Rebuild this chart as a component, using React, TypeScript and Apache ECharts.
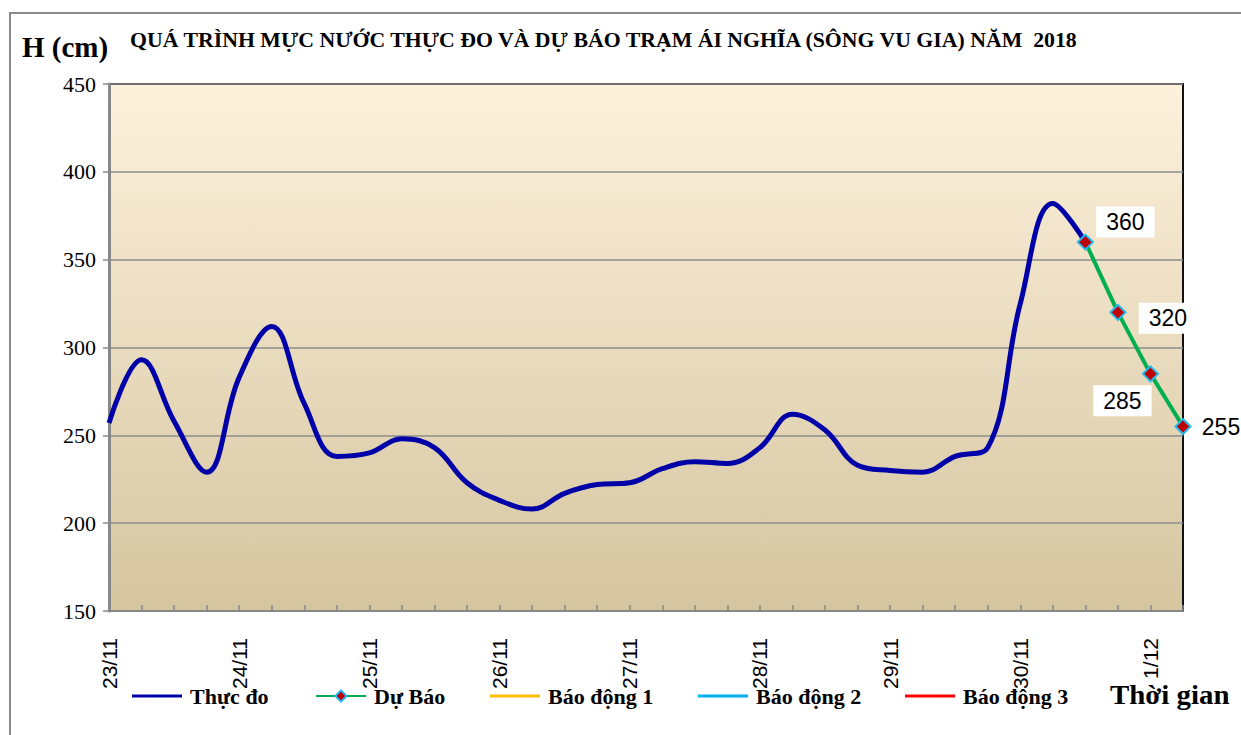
import React, { useEffect, useRef } from "react";
import * as echarts from "echarts";

const days = ["23/11", "24/11", "25/11", "26/11", "27/11", "28/11", "29/11", "30/11", "1/12"];
const hours = ["00h", "06h", "12h", "18h"];
const categories: string[] = [];
days.forEach((d, i) => {
  hours.forEach((h, j) => {
    if (i < days.length - 1 || j < 2) categories.push(d + " " + h);
  });
});

const observed = [257, 293, 258, 229, 283, 312, 268, 238, 240, 248, 243, 223, 213, 208, 217, 222, 223, 231, 235, 234, 243, 262, 253, 233, 230, 229, 238, 243, 325, 382, 360];
const forecastStart = 30;
const forecast = [360, 320, 285, 255];

const yTicks = { min: 150, max: 450, interval: 50 };

const titleText = "QUÁ TRÌNH MỰC NƯỚC THỰC ĐO VÀ DỰ BÁO TRẠM ÁI NGHĨA (SÔNG VU GIA) NĂM  2018";
const legendNames = ["Thực đo", "Dự Báo", "Báo động 1", "Báo động 2", "Báo động 3"];
const legendColors = ["#0000A8", "#00B050", "#FFC000", "#00B0F0", "#FF0000"];

export default function App() {
  const ref = useRef<HTMLDivElement>(null);
  useEffect(() => {
    document.body.style.margin = "0";
    const chart = echarts.init(ref.current!, null, { renderer: "svg" });
    const labelOffsets = [
      [40, -20],
      [50, 6],
      [-28, 27],
      [38, 0],
    ];
    const forecastData: any[] = categories.map(() => null);
    forecast.forEach((v, i) => {
      forecastData[forecastStart + i] = {
        value: v,
        label: { offset: labelOffsets[i] },
      };
    });
    const serif = "Liberation Serif";
    const sans = "Liberation Sans";
    const legendLefts = [132, 315, 490, 698, 905];
    const legends = legendNames.map((n, i) => ({
      data: [i === 1 ? { name: n } : { name: n, icon: "rect" }],
      left: legendLefts[i],
      top: 685,
      itemWidth: 50,
      itemHeight: i === 1 ? 14 : 3,
      itemGap: 0,
      padding: 0,
      textStyle: { fontFamily: serif, fontWeight: "bold", fontSize: 22, color: "#000", padding: [0, 0, 0, 3] },
    }));
    chart.setOption({
      animation: false,
      backgroundColor: "#fff",
      grid: {
        left: 109,
        right: 58,
        top: 84,
        bottom: 124,
        show: true,
        borderColor: "#111",
        borderWidth: 2,
        backgroundColor: new echarts.graphic.LinearGradient(0, 0, 0, 1, [
          { offset: 0, color: "#FDF1DC" },
          { offset: 1, color: "#D5C6A0" },
        ]),
      },
      graphic: [
        {
          type: "rect",
          shape: { x: 10, y: 13, width: 1240, height: 740 },
          style: { fill: "none", stroke: "#8a8a8a", lineWidth: 2 },
          z: -10,
        },
        {
          type: "text",
          x: 22,
          y: 32,
          style: { text: "H (cm)", fontFamily: serif, fontWeight: "bold", fontSize: 29, fill: "#000" },
        },
        {
          type: "text",
          x: 130,
          y: 30,
          scaleX: 1.09,
          style: { text: titleText, fontFamily: serif, fontWeight: "bold", fontSize: 20, fill: "#000" },
        },
        {
          type: "text",
          x: 1110,
          y: 681,
          scaleX: 1.07,
          style: { text: "Thời gian", fontFamily: serif, fontWeight: "bold", fontSize: 27, fill: "#000" },
        },
      ],
      legend: legends,
      xAxis: {
        type: "category",
        data: categories,
        boundaryGap: false,
        axisLine: { lineStyle: { color: "#888", width: 2 } },
        axisTick: { show: true, inside: true, length: 6, interval: 0, lineStyle: { color: "#888", width: 1.5 } },
        axisLabel: {
          interval: 3,
          rotate: 90,
          margin: 27,
          fontFamily: sans,
          fontSize: 21,
          color: "#000",
          formatter: (v: string) => v.split(" ")[0],
        },
        splitLine: { show: false },
      },
      yAxis: {
        type: "value",
        min: yTicks.min,
        max: yTicks.max,
        interval: yTicks.interval,
        axisLine: { show: true, lineStyle: { color: "#888", width: 3 } },
        axisTick: { show: true, length: 6, lineStyle: { color: "#888", width: 1.5 } },
        axisLabel: { margin: 13, fontFamily: serif, fontSize: 22, color: "#000" },
        splitLine: { lineStyle: { color: "#8c8c8c", width: 1.5 } },
      },
      series: [
        {
          name: legendNames[0],
          type: "line",
          data: observed,
          smooth: 0.4,
          symbol: "none",
          lineStyle: { color: legendColors[0], width: 5 },
          itemStyle: { color: legendColors[0] },
          z: 3,
        },
        {
          name: legendNames[1],
          type: "line",
          data: forecastData,
          symbol: "diamond",
          symbolSize: 15,
          lineStyle: { color: legendColors[1], width: 4 },
          itemStyle: { color: "#C00000", borderColor: "#22B8F0", borderWidth: 2 },
          label: {
            show: true,
            position: "inside",
            fontFamily: sans,
            fontSize: 23,
            color: "#000",
            backgroundColor: "#fff",
            padding: [4, 10, 4, 10],
          },
          z: 4,
        },
        ...[2, 3, 4].map((i) => ({
          name: legendNames[i],
          type: "line",
          data: [],
          symbol: "none",
          lineStyle: { color: legendColors[i], width: 2 },
          itemStyle: { color: legendColors[i] },
        })),
      ],
    });
    return () => chart.dispose();
  }, []);
  return <div ref={ref} style={{ width: 1241, height: 735 }} />;
}
